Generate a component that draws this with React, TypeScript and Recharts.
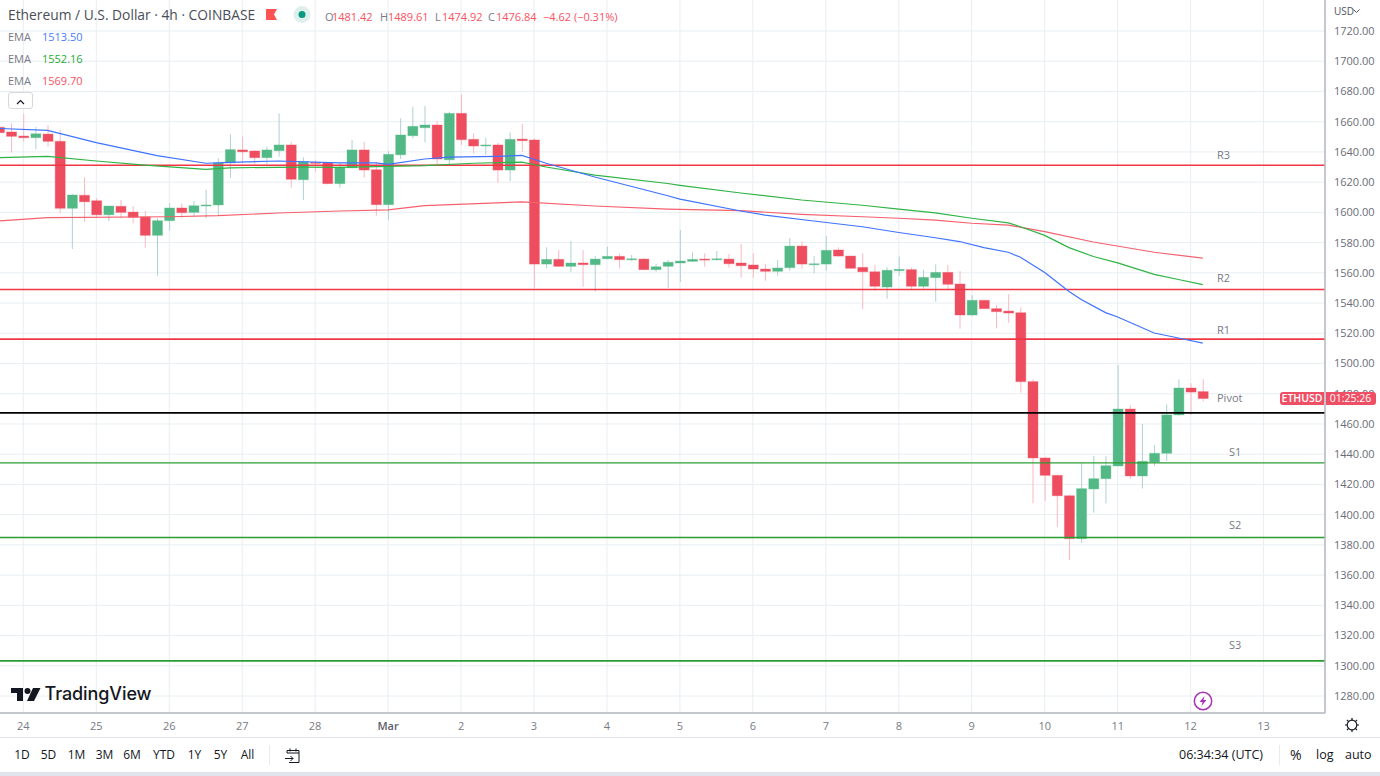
import React from 'react';
import {
  ComposedChart, Bar, Line, XAxis, YAxis, CartesianGrid, ReferenceLine,
} from 'recharts';

const FONT = '"Open Sans", "Noto Sans", sans-serif';

// 4h candles; the first entry is candle index -2 (index 0 = 24 Feb 00:00)
const FIRST_INDEX = -2;
const opens = [
  1656.3, 1653.2, 1650.5, 1649.4, 1651.8, 1647.0, 1602.7, 1611.3, 1607.7, 1598.4,
  1604.0, 1600.2, 1597.0, 1584.8, 1594.5, 1602.9, 1600.0, 1604.4, 1604.9, 1632.7,
  1641.3, 1640.6, 1636.2, 1640.8, 1644.6, 1621.6, 1633.1, 1632.9, 1619.0, 1629.5,
  1641.3, 1628.2, 1605.1, 1638.1, 1650.7, 1656.0, 1657.8, 1634.8, 1665.5, 1648.3,
  1644.1, 1644.6, 1628.0, 1648.5, 1647.9, 1565.8, 1568.9, 1564.3, 1566.5, 1565.4,
  1569.3, 1570.9, 1568.7, 1569.1, 1562.1, 1564.3, 1566.5, 1567.6, 1569.1, 1568.7,
  1569.1, 1566.5, 1565.2, 1562.5, 1561.0, 1563.4, 1577.7, 1565.6, 1565.8, 1575.1,
  1571.1, 1563.6, 1560.7, 1550.6, 1561.4, 1562.1, 1551.1, 1556.8, 1560.3, 1552.6,
  1532.1, 1541.8, 1536.3, 1534.7, 1533.6, 1488.0, 1437.5, 1426.0, 1412.5, 1384.1,
  1417.0, 1423.8, 1432.2, 1469.9, 1425.6, 1434.8, 1440.6, 1466.0, 1483.8, 1481.42,
];
const highs = [
  1657.8, 1658.9, 1665.1, 1656.7, 1657.8, 1654.5, 1612.0, 1623.2, 1609.5, 1604.2,
  1608.2, 1604.2, 1600.9, 1596.1, 1606.4, 1606.0, 1607.5, 1614.8, 1635.8, 1651.6,
  1650.1, 1641.3, 1643.4, 1665.5, 1646.7, 1636.4, 1634.6, 1632.9, 1632.7, 1647.9,
  1646.7, 1633.5, 1640.6, 1662.2, 1669.9, 1670.4, 1660.4, 1666.6, 1678.0, 1652.3,
  1649.4, 1645.9, 1653.0, 1658.5, 1649.0, 1576.9, 1575.1, 1581.0, 1575.1, 1571.1,
  1577.3, 1572.9, 1571.8, 1569.8, 1565.8, 1568.5, 1588.3, 1573.6, 1572.9, 1574.4,
  1572.4, 1579.1, 1572.9, 1565.6, 1568.5, 1583.0, 1580.8, 1571.1, 1584.4, 1576.9,
  1571.1, 1572.9, 1565.2, 1563.6, 1570.7, 1563.6, 1561.9, 1565.6, 1565.2, 1561.2,
  1545.3, 1542.0, 1538.7, 1546.0, 1537.2, 1489.5, 1438.3, 1426.2, 1413.0, 1434.0,
  1438.8, 1438.8, 1499.0, 1472.3, 1460.0, 1446.1, 1473.0, 1489.5, 1486.9, 1489.61,
];
const lows = [
  1651.8, 1639.5, 1646.7, 1641.7, 1643.4, 1599.4, 1575.8, 1593.8, 1596.3, 1594.3,
  1596.1, 1592.8, 1576.6, 1558.1, 1587.9, 1596.1, 1597.1, 1596.1, 1598.2, 1622.9,
  1632.5, 1631.8, 1631.8, 1636.8, 1616.3, 1608.2, 1626.9, 1618.6, 1616.3, 1629.1,
  1622.9, 1597.8, 1595.0, 1635.3, 1649.0, 1646.3, 1631.3, 1632.0, 1644.6, 1639.1,
  1638.0, 1619.6, 1620.7, 1640.1, 1550.2, 1563.0, 1564.0, 1560.7, 1550.8, 1547.5,
  1569.1, 1563.0, 1567.8, 1561.9, 1560.7, 1550.0, 1553.9, 1567.4, 1564.0, 1568.0,
  1563.4, 1556.8, 1556.8, 1554.8, 1558.1, 1561.4, 1562.7, 1559.7, 1561.4, 1570.7,
  1562.7, 1535.9, 1548.2, 1542.9, 1557.9, 1549.1, 1549.5, 1540.9, 1549.1, 1523.0,
  1531.4, 1536.1, 1523.3, 1527.0, 1480.7, 1407.5, 1409.2, 1392.0, 1370.0, 1381.4,
  1401.3, 1407.5, 1432.2, 1423.6, 1417.2, 1432.2, 1435.5, 1465.5, 1466.0, 1474.92,
];
const closes = [
  1652.7, 1650.3, 1649.4, 1652.0, 1647.0, 1602.7, 1611.5, 1607.0, 1598.4, 1604.2,
  1600.0, 1596.7, 1584.8, 1594.5, 1602.9, 1599.8, 1604.4, 1604.9, 1632.7, 1641.5,
  1640.1, 1636.2, 1641.3, 1644.6, 1621.9, 1633.5, 1632.4, 1619.0, 1629.8, 1641.3,
  1628.0, 1605.1, 1638.4, 1651.2, 1656.9, 1657.8, 1635.3, 1665.5, 1648.1, 1643.9,
  1644.6, 1628.0, 1648.3, 1647.4, 1565.8, 1568.9, 1564.3, 1566.5, 1565.4, 1569.1,
  1570.9, 1568.7, 1569.3, 1562.1, 1564.0, 1567.0, 1567.8, 1568.9, 1568.7, 1569.3,
  1566.0, 1564.7, 1562.5, 1561.0, 1563.2, 1577.7, 1565.8, 1566.0, 1574.9, 1571.1,
  1563.0, 1560.7, 1551.1, 1561.7, 1562.3, 1551.1, 1557.0, 1560.3, 1552.4, 1532.1,
  1541.8, 1536.3, 1534.3, 1533.4, 1488.0, 1437.5, 1426.0, 1412.5, 1384.1, 1417.2,
  1423.8, 1432.4, 1469.9, 1425.6, 1435.3, 1440.6, 1466.0, 1483.8, 1481.1, 1476.84,
];

// EMA readings: [candle index, price]
const emaBlue = [
  [-2, 1655.5], [2, 1654.3], [6, 1646.2], [11, 1637.5], [15, 1632.5], [17, 1633.1], [21, 1634.0],
  [26, 1632.7], [29, 1632.7], [30, 1631.8], [33, 1635.3], [35, 1636.6], [39, 1637.1], [41, 1637.7],
  [43, 1632.5], [47, 1623.4], [53, 1611.0], [54, 1608.8], [59, 1600.9], [61, 1598.2], [65, 1594.3],
  [69, 1590.5], [72, 1586.7], [75, 1583.2], [77, 1580.7], [79, 1576.7], [81, 1573.6], [82, 1570.3],
  [84, 1560.2], [86, 1547.6], [87, 1542.3], [89, 1533.7], [90, 1530.8], [93, 1520.2], [95, 1516.9], [97, 1513.5],
];
const emaGreen = [
  [-2, 1636.2], [2, 1637.1], [6, 1634.0], [10, 1631.3], [15, 1628.5], [17, 1629.5], [23, 1630.0],
  [26, 1629.8], [33, 1630.9], [37, 1632.5], [41, 1633.3], [43, 1630.0], [47, 1624.7], [53, 1619.1],
  [54, 1617.9], [59, 1612.8], [64, 1608.2], [69, 1604.7], [72, 1602.2], [75, 1599.7], [78, 1596.1],
  [81, 1593.0], [82, 1590.5], [84, 1584.8], [86, 1576.7], [88, 1570.8], [90, 1566.6], [93, 1559.0],
  [95, 1555.6], [97, 1552.16],
];
const emaRed = [
  [-2, 1594.3], [2, 1596.5], [12, 1597.1], [16, 1597.8], [21, 1599.6], [26, 1600.9], [30, 1601.6],
  [33, 1604.5], [41, 1606.9], [47, 1604.2], [53, 1602.2], [59, 1601.1], [64, 1598.7], [69, 1597.1],
  [72, 1596.1], [75, 1594.9], [78, 1592.8], [81, 1591.6], [84, 1587.3], [88, 1580.4], [93, 1573.6],
  [97, 1569.7],
];

// Pivot levels
const levelNames = ['R3', 'R2', 'R1', 'Pivot', 'S1', 'S2', 'S3'];
const levelPrices = [1631.1, 1549.0, 1516.2, 1467.3, 1434.2, 1384.9, 1303.2];
const levelColors = ['#f23645', '#f23645', '#f23645', '#000000', '#2a9d33', '#2a9d33', '#2a9d33'];
const levelWidths = [1.5, 1.5, 1.8, 1.8, 1.3, 1.5, 1.8];
const levelLabelRise = [10, 11, 9.5, 15, 11, 12.5, 16];
const levelLabelLeft = [1217, 1217, 1217, 1217, 1229, 1229, 1229];

// Axes
const priceTicks = [
  1720, 1700, 1680, 1660, 1640, 1620, 1600, 1580, 1560, 1540, 1520, 1500, 1480, 1460, 1440,
  1420, 1400, 1380, 1360, 1340, 1320, 1300, 1280,
];
const dayLabels = ['24', '25', '26', '27', '28', 'Mar', '2', '3', '4', '5', '6', '7', '8', '9', '10', '11', '12', '13'];
const dayTicks = [0, 6, 12, 18, 24, 30, 36, 42, 48, 54, 60, 66, 72, 78, 84, 90, 96, 102];
const PRICE_DOMAIN = [1268.77, 1740.51];
const INDEX_DOMAIN = [-1.916, 107.05];
const PLOT_HEIGHT = 713;
const lastClose = 1476.84;
const lastCloseY = (PLOT_HEIGHT * (PRICE_DOMAIN[1] - lastClose)) / (PRICE_DOMAIN[1] - PRICE_DOMAIN[0]);

const rangeButtons = [
  ['1D', 22], ['5D', 48.5], ['1M', 76.5], ['3M', 104.5], ['6M', 132], ['YTD', 164], ['1Y', 194.5], ['5Y', 220.5], ['All', 247.5],
] as [string, number][];

const lookup = (rows: number[][], i: number) => {
  const r = rows.find((p) => p[0] === i);
  return r ? r[1] : null;
};

const data = opens.map((o, k) => {
  const i = k + FIRST_INDEX;
  return {
    i, o, h: highs[k], l: lows[k], c: closes[k],
    blue: lookup(emaBlue, i), green: lookup(emaGreen, i), red: lookup(emaRed, i),
  };
});

const Candle = (props: any) => {
  const { x, y, width, height, payload } = props;
  const { o, h, l, c } = payload;
  const up = c >= o;
  const k = height / (h - l);
  const top = y + (h - Math.max(o, c)) * k;
  const bh = Math.max(Math.abs(o - c) * k, 1);
  const cx = x + width / 2;
  return (
    <g>
      <rect x={cx - 0.5} y={y} width={1} height={height} fill={up ? '#aed1d2' : '#f9b9c0'} />
      <rect
        x={cx - width / 2 + 0.5}
        y={top}
        width={width - 1}
        height={bh}
        fill={up ? '#52b986' : '#ee4d5f'}
        stroke={up ? 'rgba(82,185,134,0.35)' : 'rgba(238,77,95,0.35)'}
        strokeWidth={1}
      />
    </g>
  );
};

const DayTick = (props: any) => {
  const { x, y, payload, index } = props;
  const label = dayLabels[index] ?? dayLabels[dayTicks.indexOf(payload.value)];
  const bold = label === 'Mar';
  return (
    <text x={x} y={y + 9} textAnchor="middle" fontFamily={FONT} fontSize={11}
      fontWeight={bold ? 600 : 400} fill={bold ? '#5d606b' : '#787b86'}>
      {label}
    </text>
  );
};

const LevelLabel = (props: any) => {
  const { viewBox, text, left, rise } = props;
  return (
    <text x={left} y={viewBox.y - rise} dy={4} fontFamily={FONT} fontSize={11} fill="#787b86">
      {text}
    </text>
  );
};

const T = ({ x, y, children, color = '#131722', size = 12, weight = 400, style = {} }: any) => (
  <div style={{
    position: 'absolute', left: x, top: y, transform: 'translateY(-50%)', color, fontSize: size,
    fontWeight: weight, whiteSpace: 'nowrap', lineHeight: 1, ...style,
  }}>{children}</div>
);

const LABEL = '#787b86';
const RED = '#f7525f';

export default function App() {
  return (
    <div style={{
      position: 'absolute', left: 0, top: 0, width: 1380, height: 776, background: '#fff',
      overflow: 'hidden', fontFamily: FONT,
    }}>
      <div style={{ position: 'absolute', left: 0, top: 0 }}>
        <ComposedChart width={1380} height={738} data={data} margin={{ top: 0, right: 0, bottom: 0, left: 0 }}>
          <CartesianGrid stroke="#e8eef2" strokeWidth={1} horizontalValues={priceTicks} verticalValues={dayTicks} />
          <XAxis dataKey="i" type="number" domain={INDEX_DOMAIN} ticks={dayTicks} height={25} allowDataOverflow
            interval={0} tickLine={false} axisLine={{ stroke: '#b2b5be', strokeWidth: 1.5 }} tick={<DayTick />} />
          <YAxis orientation="right" type="number" domain={PRICE_DOMAIN} ticks={priceTicks} width={55} allowDataOverflow
            interval={0} tickLine={false} tickSize={0} tickMargin={9}
            axisLine={{ stroke: '#b2b5be', strokeWidth: 1.5 }}
            tick={{ fontSize: 11, fill: '#6a6d78', fontFamily: FONT }}
            tickFormatter={(v: number) => v.toFixed(2)} />
          {levelPrices.map((p, n) => (
            <ReferenceLine key={levelNames[n]} y={p} stroke={levelColors[n]} strokeWidth={levelWidths[n]}
              label={<LevelLabel text={levelNames[n]} left={levelLabelLeft[n]} rise={levelLabelRise[n]} />} />
          ))}
          <Line dataKey="red" stroke="#f5606d" strokeWidth={1.2} dot={false} connectNulls isAnimationActive={false} legendType="none" />
          <Line dataKey="green" stroke="#2fb344" strokeWidth={1.2} dot={false} connectNulls isAnimationActive={false} legendType="none" />
          <Line dataKey="blue" stroke="#3f73ff" strokeWidth={1.2} dot={false} connectNulls isAnimationActive={false} legendType="none" />
          <Bar dataKey={(d: any) => [d.l, d.h]} barSize={11} shape={<Candle />} isAnimationActive={false} />
        </ComposedChart>
      </div>

      {/* Last price tags */}
      <div style={{
        position: 'absolute', left: 1280, top: lastCloseY - 6.5, width: 44, height: 13, background: '#ef4f64',
        borderRadius: '3px 0 0 3px', color: '#fff', fontSize: 10.5, fontWeight: 600, lineHeight: '13px', textAlign: 'center',
      }}>ETHUSD</div>
      <div style={{
        position: 'absolute', left: 1325.5, top: lastCloseY - 6.5, width: 50, height: 13, background: '#ef4f64',
        borderRadius: '0 3px 3px 0', color: '#fff', fontSize: 10.5, lineHeight: '13px', textAlign: 'center',
      }}>01:25:26</div>

      {/* Header */}
      <T x={8} y={15} size={13.8} color="#4a4d57">Ethereum / U.S. Dollar · 4h · COINBASE</T>
      <svg style={{ position: 'absolute', left: 266, top: 9 }} width={12} height={12}>
        <path d="M0 0H11L8 5.5L11 11H0Z" fill="#ff5252" />
      </svg>
      <svg style={{ position: 'absolute', left: 293, top: 6 }} width={18} height={18}>
        <circle cx={9} cy={8.5} r={8.5} fill="#deefec" />
        <circle cx={9} cy={8.5} r={3.5} fill="#089981" />
      </svg>
      <T x={325} y={16} size={11} color={LABEL}>O</T><T x={332} y={16} size={11} color={RED}>1481.42</T>
      <T x={380} y={16} size={11} color={LABEL}>H</T><T x={388} y={16} size={11} color={RED}>1489.61</T>
      <T x={435} y={16} size={11} color={LABEL}>L</T><T x={442} y={16} size={11} color={RED}>1474.92</T>
      <T x={488} y={16} size={11} color={LABEL}>C</T><T x={496} y={16} size={11} color={RED}>1476.84</T>
      <T x={543} y={16} size={11} color={RED}>−4.62 (−0.31%)</T>

      <T x={8} y={35.5} size={11} color={LABEL}>EMA</T><T x={42} y={35.5} size={11} color="#4b7dff">1513.50</T>
      <T x={8} y={57.5} size={11} color={LABEL}>EMA</T><T x={42} y={57.5} size={11} color="#22ab37">1552.16</T>
      <T x={8} y={79.5} size={11} color={LABEL}>EMA</T><T x={42} y={79.5} size={11} color={RED}>1569.70</T>
      <div style={{
        position: 'absolute', left: 8, top: 92, width: 25, height: 17, background: '#fff',
        border: '1px solid #d6d8e0', borderRadius: 3, boxSizing: 'border-box',
      }}>
        <svg width={23} height={15}><path d="M8 9L11.5 5.5L15 9" fill="none" stroke="#131722" strokeWidth={1.2} /></svg>
      </div>

      {/* Price scale header */}
      <T x={1334} y={11} size={10} color="#50535e">USD</T>
      <svg style={{ position: 'absolute', left: 1353, top: 9 }} width={7} height={5}>
        <path d="M0.5 0.5L3.5 3.5L6.5 0.5" fill="none" stroke="#50535e" strokeWidth={1} />
      </svg>

      {/* TradingView mark */}
      <svg style={{ position: 'absolute', left: 10, top: 686 }} width={32} height={16}>
        <path d="M1 2H13V15H7V7H1Z" fill="#131722" />
        <circle cx={17.5} cy={5} r={3} fill="#131722" />
        <path d="M23 2H30.5L24 15H17Z" fill="#131722" />
      </svg>
      <T x={44.5} y={694} size={18} weight={500} color="#131722" style={{ fontFamily: '"Inter", sans-serif', letterSpacing: -0.1 }}>TradingView</T>

      {/* Lightning badge */}
      <svg style={{ position: 'absolute', left: 1193, top: 691 }} width={20} height={20}>
        <circle cx={10} cy={10} r={8.7} fill="#fff" stroke="#a832b8" strokeWidth={1.5} />
        <path d="M11.5 5L6.5 11H9.5L8.5 15L13.5 9H10.5Z" fill="#a832b8" />
      </svg>

      {/* Gear */}
      <svg style={{ position: 'absolute', left: 1344, top: 717 }} width={16} height={16}>
        <circle cx={8} cy={8} r={4.8} fill="none" stroke="#131722" strokeWidth={1.2} />
        <path d="M8 1V3.2M8 12.8V15M1 8H3.2M12.8 8H15M3 3L4.6 4.6M11.4 11.4L13 13M13 3L11.4 4.6M4.6 11.4L3 13" stroke="#131722" strokeWidth={1.2} />
      </svg>

      {/* Bottom toolbar */}
      <div style={{ position: 'absolute', left: 0, top: 737, width: 1380, height: 1, background: '#e0e3eb' }} />
      {rangeButtons.map(([label, cx]) => (
        <T key={label} x={cx} y={755} size={12} style={{ transform: 'translate(-50%,-50%)' }}>{label}</T>
      ))}
      <div style={{ position: 'absolute', left: 269, top: 745, width: 1, height: 20, background: '#e8eaef' }} />
      <svg style={{ position: 'absolute', left: 284, top: 747 }} width={18} height={18}>
        <path d="M3 6V3.5H15V15.5H5M3 6H15M6 1.5V4.5M12 1.5V4.5M1 11.5H9M6.5 9L9 11.5L6.5 14" fill="none" stroke="#131722" strokeWidth={1} />
      </svg>
      <T x={1179} y={755} size={12.5} color="#131722">06:34:34 (UTC)</T>
      <div style={{ position: 'absolute', left: 1279, top: 745, width: 1, height: 20, background: '#e8eaef' }} />
      <T x={1290} y={755} size={14} color="#131722">%</T>
      <T x={1316} y={755} size={12.5} color="#131722">log</T>
      <T x={1345} y={755} size={12.5} color="#131722">auto</T>
      <div style={{ position: 'absolute', left: 0, top: 772, width: 1380, height: 4, background: '#e0e3eb' }} />
    </div>
  );
}
